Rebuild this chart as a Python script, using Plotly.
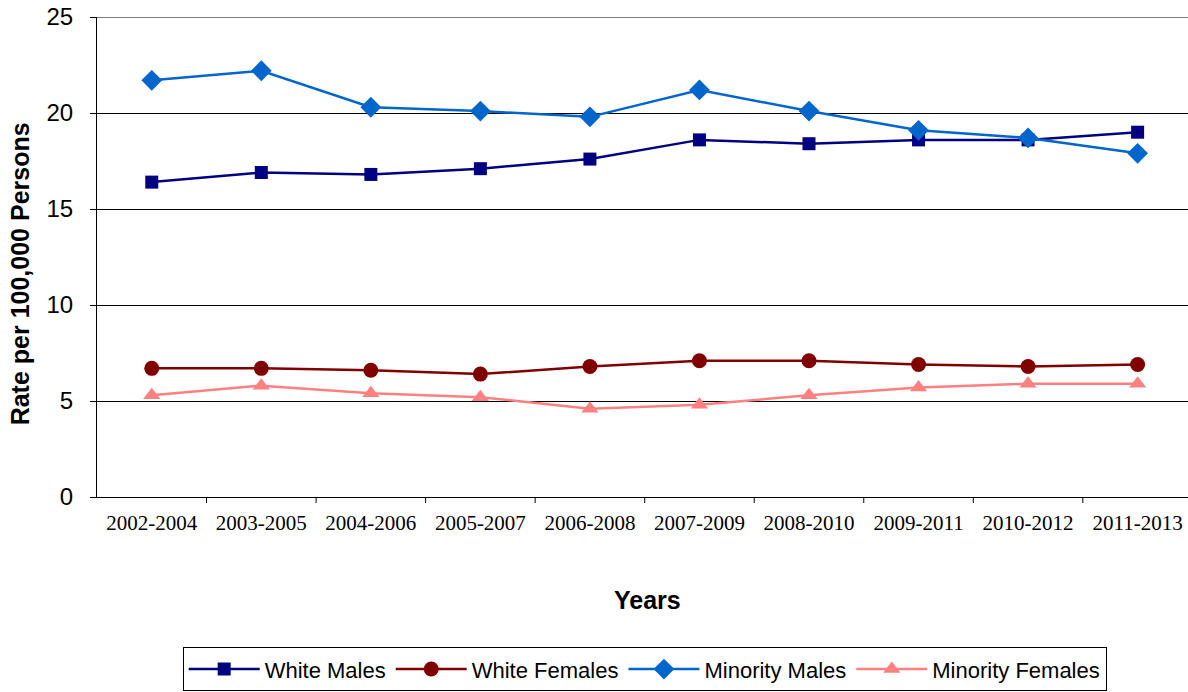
import plotly.graph_objects as go

years = ["2002-2004", "2003-2005", "2004-2006", "2005-2007", "2006-2008",
         "2007-2009", "2008-2010", "2009-2011", "2010-2012", "2011-2013"]
white_males = [16.4, 16.9, 16.8, 17.1, 17.6, 18.6, 18.4, 18.6, 18.6, 19.0]
white_females = [6.7, 6.7, 6.6, 6.4, 6.8, 7.1, 7.1, 6.9, 6.8, 6.9]
minority_males = [21.7, 22.2, 20.3, 20.1, 19.8, 21.2, 20.1, 19.1, 18.7, 17.9]
minority_females = [5.3, 5.8, 5.4, 5.2, 4.6, 4.8, 5.3, 5.7, 5.9, 5.9]
y_ticks = [0, 5, 10, 15, 20, 25]

series = [
    ("White Males", white_males, "#000080", "square", 13),
    ("White Females", white_females, "#800000", "circle", 15),
    ("Minority Males", minority_males, "#0066CC", "diamond", 16),
    ("Minority Females", minority_females, "#FF8080", "triangle-up", 15),
]

fig = go.Figure()
xs = list(range(len(years)))
for name, vals, color, sym, size in series:
    fig.add_trace(go.Scatter(
        x=xs, y=vals, name=name, mode="lines+markers",
        line=dict(color=color, width=2.5),
        marker=dict(symbol=sym, size=size, color=color),
    ))

fig.update_layout(
    width=1188, height=692,
    margin=dict(l=97, r=0, t=17, b=195),
    paper_bgcolor="white", plot_bgcolor="white",
    font=dict(family="Liberation Sans, Arial", color="black"),
    showlegend=True,
    legend=dict(
        orientation="h", x=0.502, xanchor="center", y=-0.313, yanchor="top",
        bordercolor="black", borderwidth=1,
        font=dict(family="Liberation Sans, Arial", size=22, color="black"),
        itemwidth=71, tracegroupgap=0,
    ),
    xaxis=dict(
        range=[-0.5, 9.46],
        tickmode="array", tickvals=xs, ticktext=years,
        showgrid=False, zeroline=False,
        showline=True, linecolor="black", linewidth=1,
        ticks="", ticklabelstandoff=7,
        tickfont=dict(family="Liberation Serif, Times New Roman", size=21, color="black"),
    ),
    yaxis=dict(
        range=[0, 25], tickvals=y_ticks,
        showgrid=True, gridcolor="black", gridwidth=1,
        zeroline=False,
        showline=True, linecolor="black", linewidth=1,
        ticks="outside", ticklen=6, tickcolor="black", ticklabelstandoff=12,
        tickfont=dict(family="Liberation Sans, Arial", size=24, color="black"),
    ),
    annotations=[
        dict(text="<b>Years</b>", xref="paper", yref="paper", x=0.505, y=-0.215,
             xanchor="center", yanchor="middle", showarrow=False,
             font=dict(size=25, family="Liberation Sans, Arial", color="black")),
        dict(text="<b>Rate per 100,000 Persons</b>", xref="paper", yref="paper",
             x=-0.071, y=0.465, xanchor="center", yanchor="middle", textangle=-90,
             showarrow=False,
             font=dict(size=25, family="Liberation Sans, Arial", color="black")),
    ],
)

shapes = []
for b in range(len(years)):
    bx = b + 0.5
    if bx <= 9.46:
        shapes.append(dict(type="line", xref="x", yref="paper", x0=bx, x1=bx,
                           y0=0, y1=-0.0125, line=dict(color="black", width=1)))
shapes.append(dict(type="line", xref="paper", yref="y", x0=0, x1=1, y0=25, y1=25,
                   line=dict(color="#808080", width=2)))
fig.update_layout(shapes=shapes)

fig.write_html("out.html", config={"displayModeBar": False},
               post_script="document.body.style.margin='0';")
